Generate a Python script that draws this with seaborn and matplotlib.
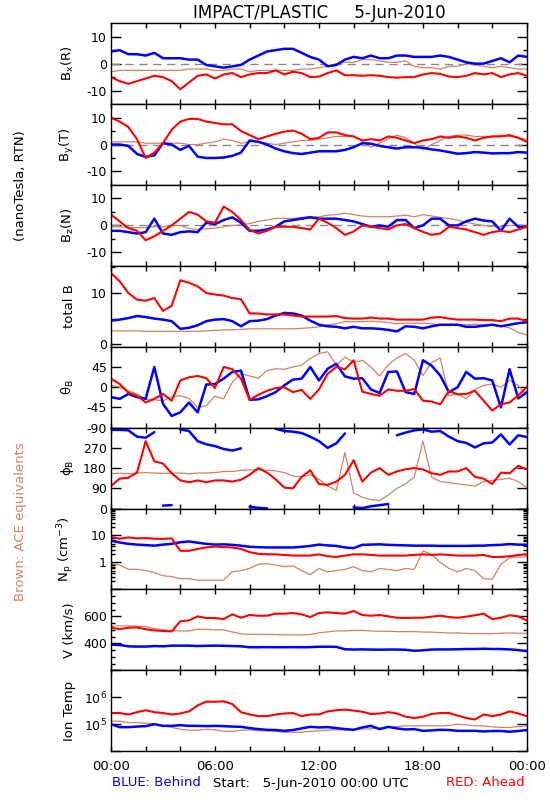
import numpy as np
import pandas as pd
import matplotlib
matplotlib.use("Agg")
import matplotlib.pyplot as plt
import matplotlib.ticker as mticker
import seaborn as sns


# DATA (half-hour samples, 5-Jun-2010)

hours = np.arange(0, 24.5, 0.5)

bx_blue = [4.5, 5, 3.5, 3.5, 3, 4, 2, 2, 2, 1.5, 1.5, -0.5, -1, -1.5, -1, -0.5, 1.5, 3, 4.5, 5, 5.5, 5.5, 4, 2.5, 1.5,
           -1, -0.5, 1.5, 2.5, 2, 3, 2, 2, 3, 3, 2.5, 2.5, 2.5, 3, 2.5, 1.5, 0.5, 0, 0, 1, 2, 0.5, 3, 2.5]
bx_red = [-5, -6.5, -7.5, -6.5, -5.5, -4.5, -5, -6.5, -9.5, -7, -4.5, -4, -5.5, -4, -3.5, -5, -4, -3.5, -3.5, -2.5, -4, -3,
          -3.5, -5, -4.8, -3.5, -2.5, -4.3, -4.3, -4.5, -4.3, -4.5, -5, -5.2, -5, -5, -4, -3.5, -3.8, -4.8, -5, -4.5,
          -3.5, -4, -3.5, -5, -4, -3.5, -4.5]
bx_brown = [-3, -2.5, -2.5, -2.5, -2.5, -2.5, -2.5, -2.5, -2.5, -2, -2, -2, -2.5, -2.5, -2, -2, -3, -2.5, -2.5, -2.5, -2.5,
            -2.5, -2, -2, -1.5, -1, 0, 0.5, 0.5, 1.5, 1.5, 1, 0.5, 0.5, 1, -1, -1.5, -1.5, -2, -1, -1, 0, -0.5, -1,
            -1.5, -1, -1.5, -2, -2]

by_blue = [0, 0, -0.5, -3.5, -4.6, -4, 0.5, 0, -2, -0.5, -4.5, -5, -5, -4.8, -4.2, -3, 1.5, 1, 0, -1.5, -2.5, -3.2, -3.5,
           -3, -2.5, -2.5, -2.5, -2, -1, 0.5, 0.3, -0.5, -1, -1.5, -1, -1, -1.2, -1.8, -2.2, -2.8, -3.4, -3.2, -2.8, -3,
           -3.3, -3.2, -3.2, -2.8, -3]
by_red = [10, 8.5, 6.5, 2, -5, -3, 0.5, 5.5, 8.5, 9.5, 9.5, 8.5, 8, 7.5, 7.5, 5, 3.5, 2, 3, 4, 4.8, 5.2, 4, 2, 2.5, 4.5,
          4.5, 3.5, 3, 1.5, 2, 1.5, 3, 2.5, 1.5, 0.5, 1.5, 2, 3, 2.5, 3, 2.5, 1.5, 2.5, 3, 3, 3.5, 2.5, 1]
by_brown = [1, 1, 1, 1, 0.5, 0.5, 0.5, 0.5, 0.5, 0, 0, 0.5, 1, 2, 1.5, 0.5, 1, 1, 0.5, 0, 0.5, 1, 1.5, 1.5, 2, 2.5, 3, 3,
            3, 1.5, -1, 0.5, 2, 3.5, 2.5, 0.5, -2, 0, 1.5, 3, 3.5, 3.5, 3, 3, 3, 3.5, 3, 2.5, 2]

bz_blue = [-2, -2, -2.5, -3, -2.5, 2.5, -3, -3.5, -2.5, -2.2, -2.5, 1, 0.5, 2, 3, 1, -2, -2, -1.5, -0.5, 1.5, 2, 2.5, 3,
           2.5, 2.5, 2.5, 2, 1.5, 0.5, -0.5, 0, -0.5, 2, 2, -1, 0, 2.5, 2.5, 0, 0, 1.5, 2.5, 1.8, 1.5, -2, 2.5, -0.5,
           -0.5]
bz_red = [4, 1.5, -1, -2, -5.5, -4, -2, 0, 2.5, 5, 4, 1.5, 1, 7, 5, 2, -1.7, -3, -2, -0.5, -0.5, -0.5, -1, -1.5, 2.5, 1,
          -1, -3.5, -2.3, 0, -0.5, -1, -1.5, 0, 0.5, -1, -2.4, -3.5, -3, -0.5, -1, -1.5, -2.5, -3.5, -2.5, -2, -2.5,
          -1.5, -0.5]
bz_brown = [-0.5, -0.5, -0.8, -0.8, -0.8, -0.5, -0.5, 0, 0, -1.2, -1.5, -1.2, -1, -0.5, 0, 0.2, 0.7, 1.5, 2, 2.6, 2.6,
            2.6, 3, 3.2, 3.2, 3.8, 4, 4.5, 4, 3.5, 3.2, 3.2, 3.2, 3.5, 3.8, 3.2, 4, 3.5, 3, 2.5, 2, 1.2, 0.5, 0, -0.5,
            -0.5, 0, 0, 0]

totb_blue = [4.6, 4.8, 5.1, 5.5, 5.3, 5, 4.8, 4.5, 3, 3.2, 3.7, 4.5, 4.8, 4.9, 4.5, 3.5, 4.5, 4.6, 4.9, 5.6, 6.1, 6, 5.6,
             4.6, 3.8, 3.5, 3.4, 3.1, 3.4, 3.1, 3.1, 3, 2.8, 2.5, 3.5, 3.4, 3.1, 3.5, 3.8, 3.8, 3.8, 3.4, 3.4, 3.6, 3.8,
             3.5, 3.8, 4.1, 4.3]
totb_red = [13.9, 12.3, 10, 8.7, 8.5, 9, 6.5, 7.5, 12.5, 12, 11.3, 10, 9.7, 9.5, 9, 8.8, 6, 6, 5.8, 5.8, 5.8, 5.6, 5.4,
            5.4, 5.4, 5.4, 5.5, 5.1, 5, 5, 5.2, 5, 5, 4.8, 4.8, 4.8, 4.8, 5.2, 5.3, 5, 4.8, 4.8, 4.8, 4.7, 4.7, 4.5, 5,
            5, 4.5]
totb_brown = [2.6, 2.6, 2.6, 2.6, 2.5, 2.5, 2.5, 2.5, 2.5, 2.5, 2.5, 2.6, 2.7, 2.8, 2.8, 2.9, 3, 3, 3, 3, 3, 3, 3.1, 3.2,
              3.4, 3.8, 4, 4.4, 4.4, 4.4, 4.5, 4.4, 4.2, 4, 4.1, 4.1, 4.1, 4, 3.8, 3.8, 3.8, 3.8, 3.9, 3.8, 3.8, 3.6,
              3.2, 2.3, 1.8]

theta_blue = [-22, -26, -15, -22, -26, 45, -37, -64, -56, -34, -56, 6, 7, 19, 34, 37, -28, -27, -20, -11, 4, 17, 19, 45,
              15, 41, 52, 24, 19, 20, -5, -13, 34, 35, -11, -15, 60, 48, 26, -11, 0, 34, 19, 20, 15, -45, 40, -25, -11]
theta_red = [19, 7, -12, -19, -34, -26, -15, -30, 15, 22, 25, 20, -2, 45, 40, 19, -28, -17, -8, -2, 0, -11, -6, -26, -5,
             30, 45, 40, 60, -10, -15, -19, -5, -8, -8, -4, -30, -32, -38, -8, -16, -15, -8, -30, -52, -38, -34, -18, 0]
theta_brown = [4, 0, -8, -15, -26, -28, -30, -22, -19, -25, -45, -41, -20, -26, 11, 30, 25, 20, 37, 41, 40, 45, 49, 64,
               75, 79, 49, 67, 55, 60, 45, 25, 50, 65, 75, 60, 26, 55, 65, -19, -15, -26, -5, 4, 7, 0, 15, 4, -19]

phi_blue = [350, 350, 348, 320, 315, 340, 13, 15, 352, 345, 300, 286, 278, 265, 258, 268, 8, 3, 1, 355, 345, 342, 336,
            320, 300, 270, 290, 334, 5, 2, 10, 15, 20, 326, 338, 348, 352, 342, 345, 320, 300, 292, 272, 290, 294, 330,
            285, 326, 318]
phi_red = [101, 133, 137, 160, 300, 210, 200, 157, 125, 117, 125, 117, 125, 125, 120, 128, 150, 180, 160, 130, 93, 90,
           141, 170, 109, 105, 120, 150, 215, 120, 160, 180, 150, 165, 175, 180, 174, 157, 150, 165, 165, 180, 141, 133,
           109, 160, 157, 190, 174]
phi_brown = [155, 157, 155, 158, 160, 158, 157, 157, 158, 155, 158, 158, 160, 165, 165, 170, 172, 172, 170, 168, 160, 145,
             141, 150, 130, 100, 80, 250, 70, 50, 40, 35, 60, 90, 110, 140, 300, 140, 120, 115, 110, 105, 100, 120, 125,
             130, 135, 120, 93]

np_blue = [6.5, 5.5, 4.9, 4.6, 4.4, 4.2, 4.6, 4.9, 5.6, 6, 5.4, 4.9, 4.6, 4.7, 4.5, 4.2, 3.8, 3.7, 3.6, 3.6, 3.6, 3.6,
           3.8, 4.1, 4.6, 4.3, 4.1, 3.6, 3.4, 4.5, 4.6, 4.7, 4.5, 4.4, 4.3, 4.2, 4.2, 4.2, 4.1, 4.1, 4.1, 4.1, 4.2, 4.2,
           4.4, 4.5, 4.8, 4.6, 4.5]
np_red = [8.7, 7.6, 8.5, 7.8, 8, 7.6, 7.5, 7.8, 2.7, 2.7, 3.2, 3.6, 3.9, 3.7, 3.6, 3.2, 2.4, 2.1, 2, 2, 1.9, 1.8, 1.8,
          1.8, 2, 1.7, 1.6, 1.8, 2, 2, 1.9, 1.8, 1.8, 1.8, 1.8, 1.9, 2, 1.9, 2, 1.9, 1.8, 1.8, 1.8, 1.9, 1.6, 1.6, 1.7,
          1.9, 2]
np_brown = [0.9, 0.8, 0.56, 0.56, 0.5, 0.42, 0.32, 0.3, 0.25, 0.25, 0.22, 0.22, 0.22, 0.22, 0.45, 0.5, 0.6, 0.85, 0.9,
            0.8, 0.7, 0.75, 0.5, 0.35, 0.6, 0.45, 0.5, 0.55, 0.7, 0.5, 0.45, 0.6, 0.55, 0.5, 0.6, 0.55, 2.7, 2, 1, 0.6,
            0.45, 0.6, 0.5, 0.25, 0.24, 0.85, 1.5, 1.6, 1.6]

v_blue = [390, 388, 378, 376, 376, 380, 378, 383, 383, 383, 380, 382, 383, 382, 380, 378, 371, 371, 372, 371, 371, 372,
          371, 372, 375, 375, 374, 356, 354, 355, 354, 353, 354, 354, 352, 345, 348, 354, 355, 355, 356, 358, 358, 360,
          358, 358, 355, 350, 342]
v_red = [516, 506, 516, 518, 505, 496, 492, 488, 564, 570, 600, 588, 588, 580, 615, 590, 610, 605, 605, 620, 620, 625,
         615, 595, 625, 630, 625, 620, 640, 610, 605, 610, 600, 590, 588, 590, 590, 598, 605, 595, 590, 598, 608, 620,
         580, 590, 608, 600, 570]
v_brown = [528, 530, 530, 528, 525, 510, 500, 495, 492, 492, 504, 504, 500, 500, 485, 470, 467, 467, 467, 465, 463, 463,
           463, 465, 478, 485, 492, 492, 496, 496, 492, 490, 490, 487, 487, 487, 484, 483, 480, 477, 477, 474, 472, 472,
           472, 475, 477, 475, 475]

# ion temperature in units of 1e5 K
temp_blue = [1.0, 0.78, 0.78, 0.82, 0.85, 1.0, 0.87, 0.87, 0.92, 0.87, 0.87, 0.85, 0.87, 0.85, 0.82, 0.80, 0.72, 0.66,
             0.62, 0.61, 0.57, 0.61, 0.70, 0.80, 0.76, 0.78, 0.72, 0.66, 0.62, 0.76, 0.87, 0.66, 0.80, 0.70, 0.64, 0.66,
             0.57, 0.59, 0.62, 0.61, 0.57, 0.57, 0.57, 0.54, 0.56, 0.56, 0.53, 0.56, 0.61]
temp_red = [2.6, 2.6, 2.3, 2.8, 3.3, 2.8, 2.6, 2.3, 2.5, 3.0, 5.0, 6.9, 6.8, 7.1, 5.6, 2.8, 2.3, 2.0, 2.0, 2.3, 2.5, 2.6,
            2.0, 2.3, 2.3, 3.0, 3.3, 3.5, 3.2, 2.9, 2.4, 2.5, 2.8, 2.5, 1.9, 1.7, 1.9, 2.4, 2.6, 2.6, 2.1, 1.7, 1.5, 2.3,
            2.0, 2.3, 3.0, 2.5, 2.0]
temp_brown = [1.3, 1.3, 1.15, 1.15, 1.1, 1.05, 0.9, 0.76, 0.65, 0.6, 0.6, 0.65, 0.62, 0.55, 0.55, 0.6, 0.62, 0.57, 0.57,
              0.55, 0.5, 0.5, 0.5, 0.55, 0.57, 0.6, 0.62, 0.62, 0.66, 0.66, 0.68, 0.72, 0.76, 0.82, 0.87, 0.87, 0.87,
              0.87, 0.87, 0.9, 1.0, 0.95, 0.87, 0.87, 0.8, 0.76, 0.76, 0.82, 0.87]

BLUE = "#0000ff"
RED = "#ff0000"
BROWN = "#cd8466"


# STYLE

sns.set_style("ticks", {"axes.edgecolor": "black", "xtick.color": "black", "ytick.color": "black",
                        "text.color": "black", "axes.labelcolor": "black"})
plt.rcParams["font.family"] = ["DejaVu Sans"]
plt.rcParams["mathtext.default"] = "regular"
FS = 9.5
TICK_FS = 9


def draw(ax, vals, color, lw, scale=1.0, wrap=False):
    v = np.asarray(vals, dtype=float) * scale
    seg = np.zeros(len(v), dtype=int)
    if wrap:
        # break the line where the angle wraps round 0/360
        seg[1:] = np.cumsum(np.abs(np.diff(v)) > 180)
    df = pd.DataFrame({"hour": hours, "val": v, "seg": seg})
    sns.lineplot(data=df, x="hour", y="val", units="seg", estimator=None, sort=False,
                 color=color, lw=lw, ax=ax, legend=False)


def fmt_only(labels):
    return mticker.FuncFormatter(lambda v, p: labels.get(round(v, 6), ""))


fig, axes = plt.subplots(9, 1, figsize=(5.5, 8), dpi=100, sharex=True)
fig.subplots_adjust(left=0.2018, right=0.958, top=0.971, bottom=0.061, hspace=0)

panels = [
    # blue, red, brown, label, ylim, majors, labels, minors, scale, log, zero, wrap
    (bx_blue, bx_red, bx_brown, r"B$_x$(R)", (-15, 15), [-10, 0, 10], None, [-5, 5], 1, False, True, False),
    (by_blue, by_red, by_brown, r"B$_y$(T)", (-15, 15), [-10, 0, 10], None, [-5, 5], 1, False, True, False),
    (bz_blue, bz_red, bz_brown, r"B$_z$(N)", (-15, 15), [-10, 0, 10], None, [-5, 5], 1, False, True, False),
    (totb_blue, totb_red, totb_brown, "total B", (-0.5, 15.3), [0, 10], None, [5, 15], 1, False, False, False),
    (theta_blue, theta_red, theta_brown, r"$\theta_B$", (-90, 90), [-90, -45, 0, 45], None, [], 1, False, False, False),
    (phi_blue, phi_red, phi_brown, r"$\phi_B$", (0, 360), [0, 90, 180, 270], None, [], 1, False, False, True),
    (np_blue, np_red, np_brown, r"N$_p$ (cm$^{-3}$)", (0.1, 100), [0.1, 1, 10, 100], {1: "1", 10: "10"}, None, 1,
     True, False, False),
    (v_blue, v_red, v_brown, "V (km/s)", (200, 800), [200, 400, 600, 800], {400: "400", 600: "600"},
     list(range(250, 800, 50)), 1, False, False, False),
    (temp_blue, temp_red, temp_brown, "Ion Temp", (1e4, 1e7), [1e4, 1e5, 1e6, 1e7],
     {1e5: r"$10^5$", 1e6: r"$10^6$"}, [], 1e5, True, False, False),
]

for ax, (blue, red, brown, label, ylim, majors, labels, minors, scale, log, zero, wrap) in zip(axes, panels):
    if log:
        ax.set_yscale("log")
    if zero:
        ax.axhline(0, color="#8a8a8a", lw=1, ls=(0, (6, 4)), zorder=1)
    draw(ax, brown, BROWN, 0.9, scale, wrap)
    draw(ax, blue, BLUE, 1.8, scale, wrap)
    draw(ax, red, RED, 1.5, scale, wrap)

    ax.set_ylim(*ylim)
    ax.yaxis.set_major_locator(mticker.FixedLocator(majors))
    if labels is not None:
        ax.yaxis.set_major_formatter(fmt_only(labels))
    else:
        ax.yaxis.set_major_formatter(mticker.FuncFormatter(lambda v, p: f"{v:g}"))
    if minors is None:
        ax.yaxis.set_minor_locator(mticker.LogLocator(base=10, subs=range(2, 10)))
        ax.yaxis.set_minor_formatter(mticker.NullFormatter())
    elif minors:
        ax.yaxis.set_minor_locator(mticker.FixedLocator(minors))
        ax.yaxis.set_minor_formatter(mticker.NullFormatter())
    else:
        ax.yaxis.set_minor_locator(mticker.NullLocator())

    ax.set_xlim(0, 24)
    ax.xaxis.set_major_locator(mticker.MultipleLocator(6))
    ax.xaxis.set_minor_locator(mticker.MultipleLocator(2))
    ax.xaxis.set_major_formatter(mticker.FuncFormatter(lambda v, p: f"{int(v) % 24:02d}:00"))

    ax.tick_params(axis="y", which="major", direction="in", length=7, width=1, left=True, right=True,
                   labelsize=TICK_FS, pad=3)
    ax.tick_params(axis="y", which="minor", direction="in", length=3, width=1, left=True, right=True)
    ax.tick_params(axis="x", which="both", direction="in", length=3.6, width=1, top=True, bottom=True,
                   labelsize=FS, pad=6)
    for sp in ax.spines.values():
        sp.set_linewidth(1)
        sp.set_color("black")

    ax.set_xlabel("")
    ax.set_ylabel(label, fontsize=FS)
    ax.yaxis.set_label_coords(-0.085, 0.5)


# TEXT AROUND THE PANELS

fig.text(319 / 550, 1 - 13 / 800, "IMPACT/PLASTIC     5-Jun-2010", ha="center", va="center", fontsize=12)
fig.text(21 / 550, 1 - 186 / 800, "(nanoTesla, RTN)", rotation=90, ha="center", va="center", fontsize=FS)
fig.text(21 / 550, 1 - 522 / 800, "Brown: ACE equivalents", rotation=90, ha="center", va="center", fontsize=FS,
         color=BROWN)
fig.text(112 / 550, 1 - 783 / 800, "BLUE: Behind", ha="left", va="center", fontsize=FS, color=BLUE)
fig.text(213 / 550, 1 - 783 / 800, "Start:   5-Jun-2010 00:00 UTC", ha="left", va="center", fontsize=FS)
fig.text(525 / 550, 1 - 783 / 800, "RED: Ahead", ha="right", va="center", fontsize=FS, color=RED)

fig.savefig("out.png", dpi=100, facecolor="white")
